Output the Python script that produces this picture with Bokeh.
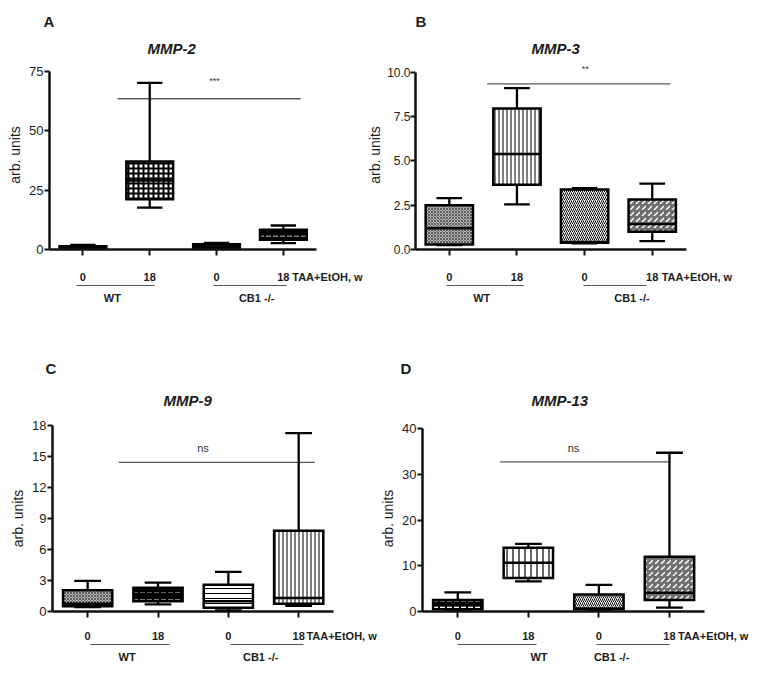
import pandas as pd
from bokeh.plotting import figure
from bokeh.layouts import row, column
from bokeh.models import (ColumnDataSource, FixedTicker, Label, LinearAxis, Title,
                          PrintfTickFormatter, Range1d)
from bokeh.embed import file_html
from bokeh.resources import INLINE

# ---------------- data ----------------
groups = ["WT 0", "WT 18", "CB1-/- 0", "CB1-/- 18"]
x_pos = [1, 2, 3, 4]
week_labels = ["0", "18", "0", "18"]
genotypes = ["WT", "CB1 -/-"]
x_unit_label = "TAA+EtOH, w"
y_label = "arb. units"

mmp2_min = [0.3, 17.6, 0.3, 2.7]
mmp2_q1 = [0.5, 21.2, 0.6, 4.1]
mmp2_med = [0.9, 29.1, 1.2, 6.3]
mmp2_q3 = [1.4, 37.1, 2.2, 8.3]
mmp2_max = [1.9, 70.2, 2.8, 10.1]

mmp3_min = [0.25, 2.55, 0.35, 0.47]
mmp3_q1 = [0.28, 3.65, 0.38, 1.0]
mmp3_med = [1.2, 5.38, 0.42, 1.44]
mmp3_q3 = [2.5, 7.95, 3.39, 2.82]
mmp3_max = [2.9, 9.1, 3.46, 3.72]

mmp9_min = [0.42, 0.68, 0.1, 0.55]
mmp9_q1 = [0.5, 0.98, 0.36, 0.75]
mmp9_med = [0.75, 1.7, 1.0, 1.3]
mmp9_q3 = [2.05, 2.31, 2.6, 7.82]
mmp9_max = [2.96, 2.8, 3.84, 17.26]

mmp13_min = [0.15, 6.58, 0.15, 0.86]
mmp13_q1 = [0.5, 7.3, 0.5, 2.5]
mmp13_med = [1.4, 10.66, 0.65, 4.08]
mmp13_q3 = [2.5, 13.95, 3.72, 11.95]
mmp13_max = [4.2, 14.8, 5.8, 34.7]

sig_text = ["***", "**", "ns", "ns"]
sig_level = [63.5, 9.34, 14.43, 32.7]

FONT = "Liberation Sans"
TXT = "#1c1c1c"

STYLES = {
    "dark":     dict(fill="#2a2a2a", hatch=" ", hcol="black", hscale=6, hweight=1),
    "checker":  dict(fill="white", hatch="cross", hcol="black", hscale=5, hweight=2),
    "dashblk":  dict(fill="black", hatch="horizontal_dash", hcol="white", hscale=7, hweight=2),
    "graydots": dict(fill="#b8b8b8", hatch="diagonal_cross", hcol="#444444", hscale=3, hweight=0.8),
    "vlines":   dict(fill="white", hatch="vertical_line", hcol="black", hscale=4, hweight=1),
    "vwide":    dict(fill="white", hatch="vertical_line", hcol="black", hscale=6, hweight=1.2),
    "hlines":   dict(fill="white", hatch="horizontal_line", hcol="black", hscale=5, hweight=1),
    "diag":     dict(fill="white", hatch="right_diagonal_line", hcol="black", hscale=4, hweight=1),
    "diagdash": dict(fill="#707070", hatch="right_diagonal_dash", hcol="white", hscale=6, hweight=1.5),
}

# row-level geometry (frames in one row share top and bottom borders)
ROW1 = dict(t=60, fh=189, b=81, s_title=8, title_va="bottom", s_letter=7, s_week=15)
ROW2 = dict(t=95, fh=186, b=69, s_title=30, title_va="top", s_letter=0, s_week=12)

panels = [
    dict(letter="A", title="MMP-2", stats=(mmp2_min, mmp2_q1, mmp2_med, mmp2_q3, mmp2_max),
         ymax=79.6, ybound=75, ticks=[0, 25, 50, 75], fmt=None,
         styles=["dark", "checker", "dark", "dashblk"],
         sig=0, sig_x=(1.52, 4.26), sig_lab=(2.97, 71.0),
         row=ROW1, l=49, fw=294, r=21, xmax=4.9,
         letter_off=-6, title_off=98,
         group_x=(1.44, 3.6), lines=((0.9, 2.07), (2.95, 4.05)), taa_x=4.66),
    dict(letter="B", title="MMP-3", stats=(mmp3_min, mmp3_q1, mmp3_med, mmp3_q3, mmp3_max),
         ymax=10.66, ybound=10, ticks=[0, 2.5, 5, 7.5, 10], fmt="%.1f",
         styles=["graydots", "vlines", "diag", "diagdash"],
         sig=1, sig_x=(1.56, 4.27), sig_lab=(3.01, 10.2),
         row=ROW1, l=45, fw=301, r=51, xmax=4.95,
         letter_off=0, title_off=116,
         group_x=(1.48, 3.7), lines=((0.96, 2.09), (2.99, 3.92)), taa_x=4.66),
    dict(letter="C", title="MMP-9", stats=(mmp9_min, mmp9_q1, mmp9_med, mmp9_q3, mmp9_max),
         ymax=18, ybound=18, ticks=[0, 3, 6, 9, 12, 15, 18], fmt=None,
         styles=["graydots", "dashblk", "hlines", "vlines"],
         sig=2, sig_x=(1.44, 4.23), sig_lab=(2.64, 15.85),
         row=ROW2, l=52, fw=313, r=12, xmax=4.95,
         letter_off=-7, title_off=111,
         group_x=(1.56, 3.46), lines=((1.04, 2.17), (3.03, 4.07)), taa_x=4.61),
    dict(letter="D", title="MMP-13", stats=(mmp13_min, mmp13_q1, mmp13_med, mmp13_q3, mmp13_max),
         ymax=40.66, ybound=40, ticks=[0, 10, 20, 30, 40], fmt=None,
         styles=["dashblk", "vwide", "diag", "diagdash"],
         sig=3, sig_x=(1.6, 3.99), sig_lab=(2.64, 35.8),
         row=ROW2, l=41, fw=314, r=29, xmax=4.95,
         letter_off=-22, title_off=109,
         group_x=(2.15, 3.18), lines=((0.99, 2.12), (2.97, 4.0)), taa_x=4.62),
]

BOX_HALF = 0.35
CAP_HALF = 0.19


def text_axis(ticks, overrides, standoff, size="11px", bold=True):
    ax = LinearAxis(ticker=FixedTicker(ticks=list(ticks)),
                    major_label_overrides=overrides,
                    axis_line_color=None, major_tick_line_color=None,
                    minor_tick_line_color=None, major_tick_out=0, major_tick_in=0,
                    minor_tick_out=0, minor_tick_in=0,
                    major_label_standoff=standoff)
    ax.major_label_text_font = FONT
    ax.major_label_text_font_size = size
    ax.major_label_text_font_style = "bold" if bold else "normal"
    ax.major_label_text_color = TXT
    return ax


def line_axis(lo, hi):
    return LinearAxis(ticker=FixedTicker(ticks=[], minor_ticks=[]), bounds=(lo, hi),
                      axis_line_color="#555555", axis_line_width=1.2,
                      major_tick_line_color=None, minor_tick_line_color=None,
                      major_tick_out=0, major_tick_in=0, minor_tick_out=0, minor_tick_in=0,
                      major_label_standoff=0)


def make_panel(cfg):
    rw = cfg["row"]
    p = figure(frame_width=cfg["fw"], frame_height=rw["fh"],
               min_border_left=cfg["l"], min_border_right=cfg["r"],
               min_border_top=rw["t"], min_border_bottom=rw["b"],
               x_range=Range1d(0.5, cfg["xmax"]), y_range=Range1d(0, cfg["ymax"]),
               title=None, output_backend="svg", toolbar_location=None, tools="")
    p.outline_line_color = None
    p.background_fill_color = "white"
    p.border_fill_color = "white"
    p.xgrid.visible = False
    p.ygrid.visible = False

    mn, q1, med, q3, mx = cfg["stats"]
    df = pd.DataFrame(dict(x=x_pos, group=groups, mn=mn, q1=q1, med=med, q3=q3, mx=mx))
    df["xl"] = df.x - BOX_HALF
    df["xr"] = df.x + BOX_HALF
    df["cl"] = df.x - CAP_HALF
    df["cr"] = df.x + CAP_HALF
    st = [STYLES[s] for s in cfg["styles"]]
    for key in ("fill", "hatch", "hcol", "hscale", "hweight"):
        df[key] = [s[key] for s in st]
    src = ColumnDataSource(df)

    # significance bar
    i = cfg["sig"]
    sig_src = ColumnDataSource(dict(x0=[cfg["sig_x"][0]], x1=[cfg["sig_x"][1]],
                                    y=[sig_level[i]]))
    p.segment(x0="x0", x1="x1", y0="y", y1="y", source=sig_src,
              line_color="#5a5a5a", line_width=1.3)

    # whiskers
    wk = dict(line_color="black", line_width=2.3)
    p.segment(x0="x", x1="x", y0="q3", y1="mx", source=src, **wk)
    p.segment(x0="x", x1="x", y0="q1", y1="mn", source=src, **wk)
    p.segment(x0="cl", x1="cr", y0="mx", y1="mx", source=src, **wk)
    p.segment(x0="cl", x1="cr", y0="mn", y1="mn", source=src, **wk)

    # boxes
    p.vbar(x="x", width=2 * BOX_HALF, bottom="q1", top="q3", source=src,
           fill_color="fill", hatch_pattern="hatch", hatch_color="hcol",
           hatch_scale="hscale", hatch_weight="hweight",
           line_color="black", line_width=2.5, line_join="miter")
    p.segment(x0="xl", x1="xr", y0="med", y1="med", source=src,
              line_color="black", line_width=2.5)

    # main x axis: line + tick marks only (tick marks as minor ticks -> no labels)
    xa = p.xaxis[0]
    xa.ticker = FixedTicker(ticks=[], minor_ticks=x_pos)
    xa.bounds = (0.5, 4.5)
    xa.axis_line_width = 2.5
    xa.axis_line_color = "#111111"
    xa.major_tick_line_color = None
    xa.major_tick_out = 0
    xa.major_tick_in = 0
    xa.minor_tick_line_color = "#111111"
    xa.minor_tick_line_width = 2
    xa.minor_tick_out = 6
    xa.minor_tick_in = 0
    xa.major_label_standoff = 0

    ya = p.yaxis[0]
    ya.ticker = FixedTicker(ticks=cfg["ticks"])
    ya.bounds = (0, cfg["ybound"])
    if cfg["fmt"]:
        ya.formatter = PrintfTickFormatter(format=cfg["fmt"])
    ya.axis_line_width = 2.5
    ya.axis_line_color = "#111111"
    ya.major_tick_line_width = 2
    ya.major_tick_line_color = "#111111"
    ya.major_tick_in = 0
    ya.major_tick_out = 5
    ya.minor_tick_line_color = None
    ya.major_label_standoff = 1 if not cfg["fmt"] else 0
    ya.major_label_text_font = FONT
    ya.major_label_text_color = TXT
    ya.major_label_text_font_size = "12px" if cfg["fmt"] else "13px"
    ya.axis_label = y_label
    ya.axis_label_text_font = FONT
    ya.axis_label_text_font_style = "normal"
    ya.axis_label_text_font_size = "14px"
    ya.axis_label_text_color = TXT
    ya.axis_label_standoff = 3 if not cfg["fmt"] else 1

    # week labels + treatment label
    week_ticks = x_pos + [cfg["taa_x"]]
    week_over = {x: l for x, l in zip(x_pos, week_labels)}
    week_over[cfg["taa_x"]] = x_unit_label
    p.add_layout(text_axis(week_ticks, week_over, rw["s_week"]), "below")
    # group underlines
    for (u0, u1) in cfg["lines"]:
        p.add_layout(line_axis(u0, u1), "below")
    # genotype labels
    p.add_layout(text_axis(cfg["group_x"], dict(zip(cfg["group_x"], genotypes)), 6), "below")

    # titles (closest to the frame first)
    p.add_layout(Title(text=cfg["title"], align="left", offset=cfg["title_off"],
                       standoff=rw["s_title"], vertical_align=rw["title_va"],
                       text_font=FONT, text_font_size="15px",
                       text_font_style="bold italic", text_color=TXT), "above")
    p.add_layout(Title(text=cfg["letter"], align="left", offset=cfg["letter_off"],
                       standoff=rw["s_letter"], text_font=FONT,
                       text_font_size="15px", text_font_style="bold",
                       text_color=TXT), "above")

    sx, sy = cfg["sig_lab"]
    p.add_layout(Label(x=sx, y=sy, text=sig_text[i], text_font=FONT,
                       text_font_size="11px" if sig_text[i] == "ns" else "9px",
                       text_color="#333333", text_align="center", text_baseline="middle"))
    return p


figs = [make_panel(c) for c in panels]
layout = column(row(figs[0], figs[1]), row(figs[2], figs[3]))

open("out.html", "w").write(file_html(layout, INLINE))
